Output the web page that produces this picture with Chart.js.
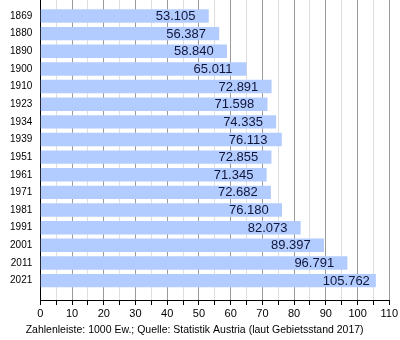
<!DOCTYPE html>
<html>
<head>
<meta charset="utf-8">
<script src="https://cdn.jsdelivr.net/npm/chart.js@4/dist/chart.umd.min.js"></script>
<style>
  html, body { margin: 0; padding: 0; background: #fff; }
  #c { display: block; }
</style>
</head>
<body>
<canvas id="c" width="400" height="340"></canvas>
<script>
const years = ["1869","1880","1890","1900","1910","1923","1934","1939","1951","1961","1971","1981","1991","2001","2011","2021"];
const population = [53.105,56.387,58.840,65.011,72.891,71.598,74.335,76.113,72.855,71.345,72.682,76.180,82.073,89.397,96.791,105.762];
const valueLabels = ["53.105","56.387","58.840","65.011","72.891","71.598","74.335","76.113","72.855","71.345","72.682","76.180","82.073","89.397","96.791","105.762"];
const xTickValues = [0,10,20,30,40,50,60,70,80,90,100,110];
const footnote = "Zahlenleiste: 1000 Ew.; Quelle: Statistik Austria (laut Gebietsstand 2017)";

const FONT = "'Liberation Sans', Arial, Helvetica, sans-serif";

const valueLabelPlugin = {
  id: 'valueLabels',
  afterDatasetsDraw(chart) {
    const ctx = chart.ctx;
    const meta = chart.getDatasetMeta(0);
    ctx.save();
    ctx.font = "13px " + FONT;
    ctx.fillStyle = "#10153a";
    ctx.textAlign = "left";
    ctx.textBaseline = "middle";
    meta.data.forEach((bar, i) => {
      ctx.fillText(valueLabels[i], bar.x - 53, bar.y + 0.5);
    });
    ctx.restore();
  }
};

new Chart(document.getElementById('c'), {
  type: 'bar',
  data: {
    datasets: [{
      data: population.map((v, i) => ({ x: v, y: i })),
      backgroundColor: 'rgb(179,204,255)',
      borderWidth: 0,
      barPercentage: 0.76,
      categoryPercentage: 1,
      clip: false
    }]
  },
  options: {
    indexAxis: 'y',
    responsive: false,
    maintainAspectRatio: false,
    animation: false,
    layout: { padding: { left: 0, right: 10.7, top: 0, bottom: 0 } },
    plugins: {
      legend: { display: false },
      tooltip: { enabled: false },
      title: {
        display: true,
        position: 'bottom',
        text: footnote,
        font: { family: FONT, size: 10.5, weight: 'normal', lineHeight: 1.2 },
        color: '#000',
        padding: { top: 0, bottom: 4 }
      }
    },
    scales: {
      y: {
        type: 'linear',
        position: 'left',
        reverse: true,
        min: -0.377,
        max: 15.569,
        afterBuildTicks: s => { s.ticks = years.map((_, i) => ({ value: i })); },
        afterFit: s => { s.width = 40.3; s.paddingTop = 0; s.paddingBottom = 0; },
        ticks: {
          callback: v => years[v] ?? '',
          font: { family: FONT, size: 10 },
          color: '#000',
          padding: 8,
          autoSkip: false
        },
        grid: { display: false, drawTicks: false },
        border: { display: true, color: '#000', width: 1 }
      },
      x: {
        type: 'linear',
        position: 'bottom',
        min: 0,
        max: 110,
        afterBuildTicks: s => {
          const t = [];
          xTickValues.forEach((v, i) => { t.push({ value: v }); if (i < xTickValues.length - 1) t.push({ value: v + 5 }); });
          s.ticks = t;
        },
        afterFit: s => { s.height = 23.4; s.paddingLeft = 0; s.paddingRight = 0; },
        ticks: {
          callback: v => (xTickValues.includes(v) ? String(v) : ''),
          font: { family: FONT, size: 11 },
          color: '#000',
          padding: 2,
          autoSkip: false,
          maxRotation: 0
        },
        grid: {
          color: c => (c.tick && c.tick.value % 10 === 0 ? '#9a9a9a' : '#dedede'),
          tickColor: '#000',
          tickLength: 5,
          lineWidth: 1
        },
        border: { display: true, color: '#000', width: 1 }
      }
    }
  },
  plugins: [valueLabelPlugin]
});
</script>
</body>
</html>
